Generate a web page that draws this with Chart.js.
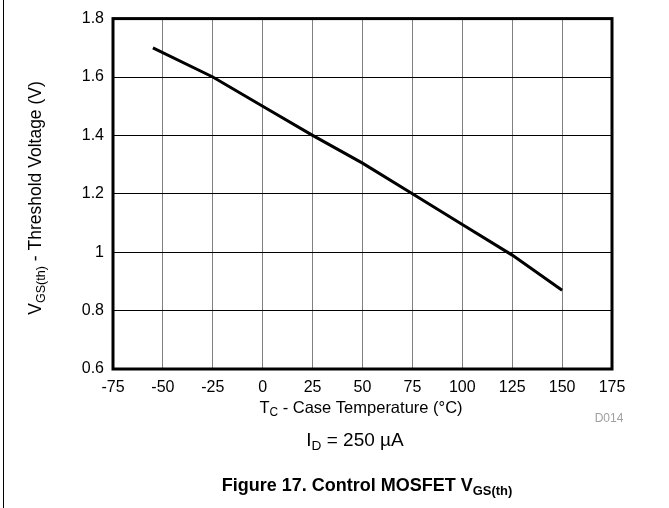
<!DOCTYPE html>
<html>
<head>
<meta charset="utf-8">
<script src="https://cdn.jsdelivr.net/npm/chart.js@4"></script>
<style>
  html, body { margin: 0; padding: 0; background: #fff; }
  #wrap { position: relative; width: 669px; height: 508px; }
</style>
</head>
<body>
<div id="wrap"><canvas id="c" width="669" height="508"></canvas></div>
<script>
const temps = [-55, -25, 0, 25, 50, 75, 100, 125, 150];
const vgsth = [1.70, 1.60, 1.50, 1.40, 1.305, 1.20, 1.095, 0.99, 0.87];
const xTicks = [-75, -50, -25, 0, 25, 50, 75, 100, 125, 150, 175];
const yTicks = [0.6, 0.8, 1, 1.2, 1.4, 1.6, 1.8];

const FONT = "'Liberation Sans', Arial, sans-serif";

// draws text made of normal/subscript runs, x is the centre
function richText(ctx, parts, x, y, size, bold) {
    const w = bold ? "bold " : "";
    let total = 0;
    parts.forEach(p => {
        ctx.font = w + (p.sub ? size * 0.72 : size) + "px " + FONT;
        total += ctx.measureText(p.t).width;
    });
    let cx = x - total / 2;
    ctx.textAlign = "left";
    ctx.textBaseline = "middle";
    parts.forEach(p => {
        ctx.font = w + (p.sub ? size * 0.72 : size) + "px " + FONT;
        ctx.fillText(p.t, cx, p.sub ? y + size * 0.3 : y);
        cx += ctx.measureText(p.t).width;
    });
}

const extras = {
    id: "extras",
    afterDraw(chart) {
        const ctx = chart.ctx;
        const a = chart.chartArea;
        ctx.save();
        // frame
        ctx.strokeStyle = "#000";
        ctx.lineWidth = 3;
        ctx.strokeRect(a.left, a.top, a.right - a.left, a.bottom - a.top);
        // page rule on the left
        ctx.lineWidth = 1;
        ctx.beginPath();
        ctx.moveTo(3.5, 0);
        ctx.lineTo(3.5, 508);
        ctx.stroke();

        ctx.fillStyle = "#000";
        // y title
        ctx.save();
        ctx.translate(36, 198);
        ctx.rotate(-Math.PI / 2);
        richText(ctx, [{t: "V"}, {t: "GS(th)", sub: true}, {t: " - Threshold Voltage (V)"}], 0, 0, 17.5);
        ctx.restore();

        // x title
        richText(ctx, [{t: "T"}, {t: "C", sub: true}, {t: " - Case Temperature (°C)"}], 361, 408, 16.5);

        // figure id
        ctx.fillStyle = "#a0a0a0";
        ctx.font = "12px " + FONT;
        ctx.textAlign = "center";
        ctx.textBaseline = "middle";
        ctx.fillText("D014", 609, 419);

        ctx.fillStyle = "#000";
        richText(ctx, [{t: "I"}, {t: "D", sub: true}, {t: " = 250 µA"}], 355, 441, 19);
        richText(ctx, [{t: "Figure 17. Control MOSFET V"}, {t: "GS(th)", sub: true}], 367, 486, 18, true);
        ctx.restore();
    }
};

new Chart(document.getElementById("c").getContext("2d"), {
    type: "line",
    data: {
        datasets: [
            {
                label: "VGS(th)",
                data: temps.map((t, i) => ({ x: t, y: vgsth[i] })),
                borderColor: "#000",
                borderWidth: 3,
                pointRadius: 0,
                tension: 0,
                fill: false,
            },
        ],
    },
    options: {
        responsive: false,
        animation: false,
        devicePixelRatio: 1,
        layout: { padding: { left: 0, top: 16, right: 57, bottom: 0 } },
        plugins: { legend: { display: false }, tooltip: { enabled: false } },
        scales: {
            x: {
                type: "linear",
                min: -75,
                max: 175,
                afterBuildTicks: (s) => { s.ticks = xTicks.map(v => ({ value: v })); },
                afterFit: (s) => { s.height = 139; },
                grid: { color: "#808080", lineWidth: 1, drawTicks: false },
                border: { display: false },
                ticks: { color: "#000", font: { family: FONT, size: 16 }, padding: 9, maxRotation: 0, autoSkip: false },
            },
            y: {
                min: 0.6,
                max: 1.8,
                afterBuildTicks: (s) => { s.ticks = yTicks.map(v => ({ value: v })); },
                afterFit: (s) => { s.width = 113; },
                grid: { color: "#000", lineWidth: 1, drawTicks: false },
                border: { display: false },
                ticks: { color: "#000", font: { family: FONT, size: 16 }, padding: 9, autoSkip: false,
                    callback: (v) => String(+v.toFixed(1)) },
            },
        },
    },
    plugins: [extras],
});
</script>
</body>
</html>
